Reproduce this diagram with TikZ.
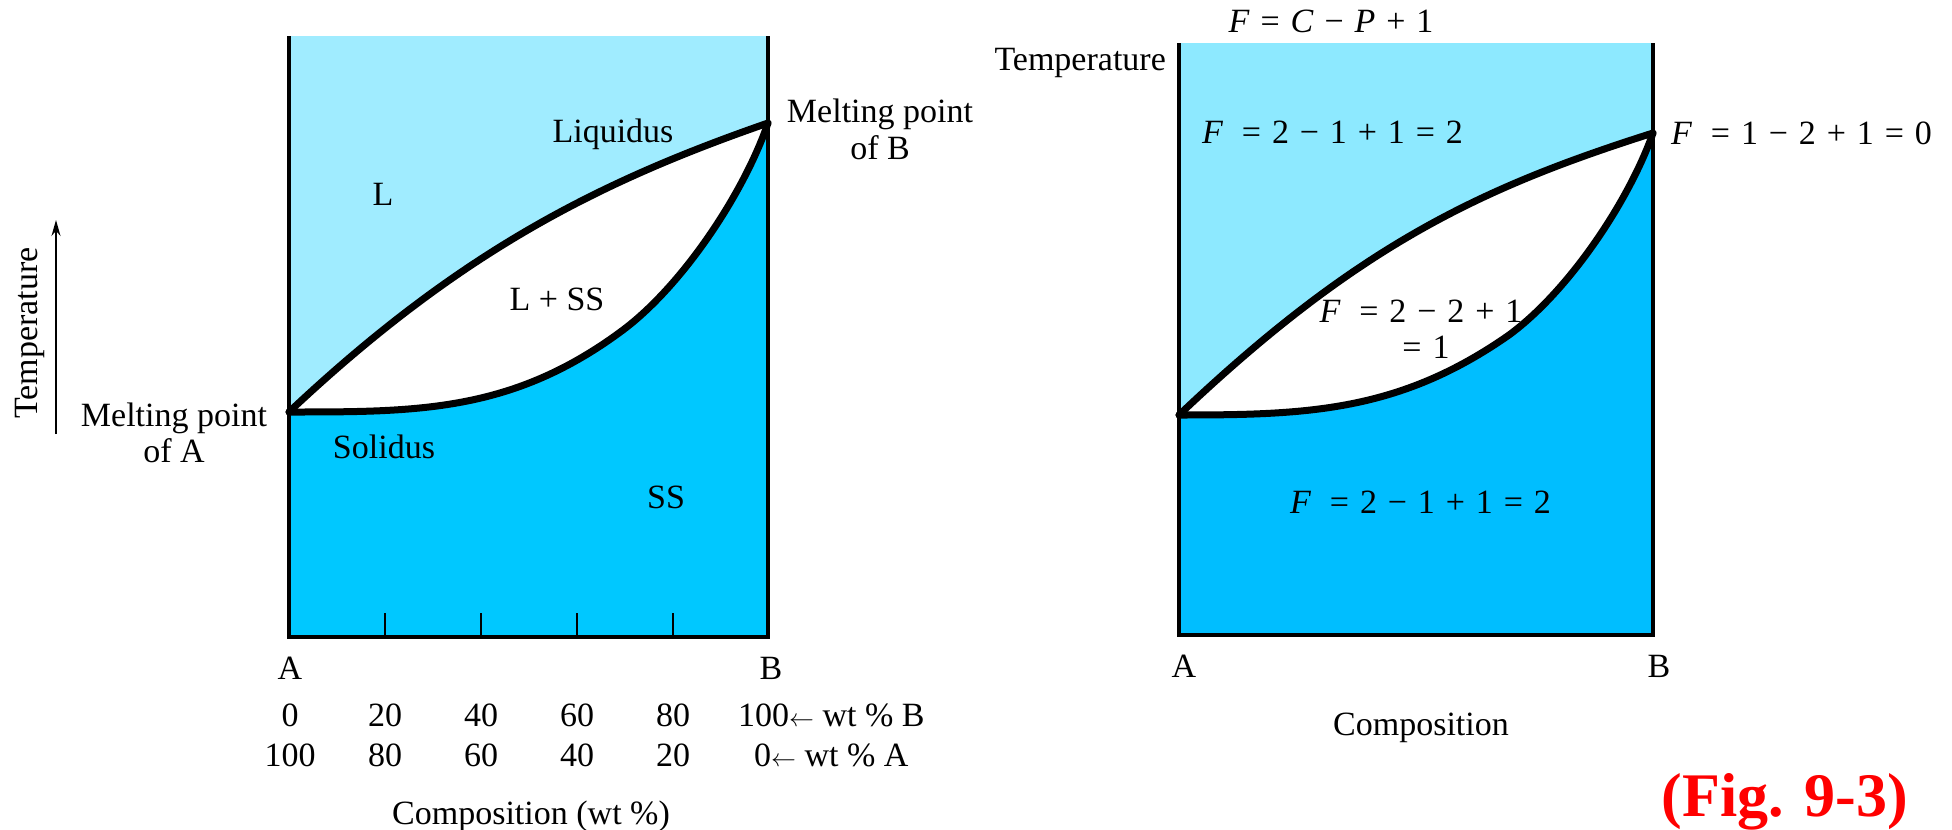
\documentclass[tikz,border=0pt]{standalone}
\usepackage{fontspec}
\setmainfont{Liberation Serif}
\usetikzlibrary{arrows.meta}
\definecolor{liqL}{RGB}{160,236,255}
\definecolor{solL}{RGB}{0,200,255}
\definecolor{liqR}{RGB}{141,233,255}
\definecolor{solR}{RGB}{0,190,255}
\definecolor{figred}{RGB}{255,0,0}
\newcommand\gp{\hspace{0.32em}}
\newcommand\gF{\hspace{0.55em}}
\begin{document}
\begin{tikzpicture}[x=1pt,y=-1pt,
  lbl/.style={font=\fontsize{34}{40}\selectfont, inner sep=0pt},
  boxline/.style={line width=3.5pt, line cap=butt, line join=miter},
  curve/.style={line width=7pt, line cap=round, line join=round},
  tick/.style={line width=2pt}]
\useasboundingbox[fill=white] (0,0) rectangle (1952,830);

% ---------------- left diagram ----------------
\coordinate (Ltl) at (289,36);
\coordinate (Ltr) at (768,36);
\coordinate (Lbl) at (289,637);
\coordinate (Lbr) at (768,637);
\coordinate (LmA) at (289,412);
\coordinate (LmB) at (768,123);
\coordinate (LsM) at (623,330);

\fill[liqL] (Ltl) -- (Ltr) -- (LmB) .. controls (598,182) and (459,252) .. (LmA) -- cycle;
\fill[solL] (Lbl) -- (LmA) .. controls (419,412) and (513,412) .. (LsM)
  .. controls (683,285) and (744,193) .. (LmB) -- (Lbr) -- cycle;

\draw[curve] (LmA) .. controls (459,252) and (598,182) .. (LmB);
\draw[curve] (LmA) .. controls (419,412) and (513,412) .. (LsM)
  .. controls (683,285) and (744,193) .. (LmB);

\draw[boxline] (Ltl) -- (Lbl) -- (Lbr) -- (Ltr);
\foreach \x in {385,481,577,673} \draw[tick] (\x,613) -- (\x,637);

\node[lbl, anchor=base] (liq) at (613,142) {Liquidus};
\node[lbl, anchor=base] (Lreg) at (383,205) {L};
\node[lbl, anchor=base] (LSS) at (557,310) {L + SS};
\node[lbl, anchor=base] (sol) at (384,458) {Solidus};
\node[lbl, anchor=base] (SSreg) at (666,508) {SS};
\node[lbl, anchor=base] (mpB1) at (880,122) {Melting point};
\node[lbl, anchor=base] (mpB2) at (880,159) {of B};
\node[lbl, anchor=base] (mpA1) at (174,426) {Melting point};
\node[lbl, anchor=base] (mpA2) at (174,462) {of A};
\node[lbl, rotate=90] (tempL) at (30,333) {Temperature};
\coordinate (arrS) at (56,434);
\coordinate (arrE) at (56,220);
\draw[line width=1.6pt, -{Stealth[length=16pt,width=9pt]}] (arrS) -- (arrE);

\node[lbl, anchor=base] (LA) at (290,679) {A};
\node[lbl, anchor=base] (LB) at (771,679) {B};
\foreach \x/\t in {290/0,385/20,481/40,577/60,673/80}
  \node[lbl, anchor=base] at (\x,726) {\t};
\node[lbl, anchor=base west] (wtB) at (738,726) {100$\leftarrow$ wt \% B};
\foreach \x/\t in {290/100,385/80,481/60,577/40,673/20}
  \node[lbl, anchor=base] at (\x,766) {\t};
\node[lbl, anchor=base west] (wtA) at (754,766) {0$\leftarrow$ wt \% A};
\node[lbl, anchor=base] (compL) at (531,824) {Composition (wt \%)};

% ---------------- right diagram ----------------
\coordinate (Rtl) at (1179,43);
\coordinate (Rtr) at (1653,43);
\coordinate (Rbl) at (1179,635);
\coordinate (Rbr) at (1653,635);
\coordinate (RmA) at (1179,415);
\coordinate (RmB) at (1653,133);
\coordinate (RsM) at (1509,335);

\fill[liqR] (Rtl) -- (Rtr) -- (RmB) .. controls (1483,187) and (1359,244) .. (RmA) -- cycle;
\fill[solR] (Rbl) -- (RmA) .. controls (1307,415) and (1399,412) .. (RsM)
  .. controls (1569,291) and (1629,201) .. (RmB) -- (Rbr) -- cycle;

\draw[curve] (RmA) .. controls (1359,244) and (1483,187) .. (RmB);
\draw[curve] (RmA) .. controls (1307,415) and (1399,412) .. (RsM)
  .. controls (1569,291) and (1629,201) .. (RmB);

\draw[boxline] (Rtl) -- (Rbl) -- (Rbr) -- (Rtr);

\node[lbl, anchor=base] (gibbs) at (1331,32) {\textit{F}\gp=\gp\textit{C}\gp−\gp\textit{P}\gp+\gp1};
\node[lbl, anchor=base east] (tempR) at (1166,70) {Temperature};
\node[lbl, anchor=base west] (Fliq) at (1202,143) {\textit{F}\gF=\gp2\gp−\gp1\gp+\gp1\gp=\gp2};
\node[lbl, anchor=base west] (Fmp) at (1671,144) {\textit{F}\gF=\gp1\gp−\gp2\gp+\gp1\gp=\gp0};
\node[lbl, anchor=base] (Ftwo1) at (1421,322) {\textit{F}\gF=\gp2\gp−\gp2\gp+\gp1};
\node[lbl, anchor=base] (Ftwo2) at (1426,358) {=\gp1};
\node[lbl, anchor=base west] (Fsol) at (1290,513) {\textit{F}\gF=\gp2\gp−\gp1\gp+\gp1\gp=\gp2};
\node[lbl, anchor=base] (RA) at (1184,677) {A};
\node[lbl, anchor=base] (RB) at (1659,677) {B};
\node[lbl, anchor=base] (compR) at (1421,735) {Composition};

\node[inner sep=0pt, anchor=base, text=figred, font=\fontsize{62}{70}\selectfont\bfseries] (fig) at (1785,816) {(Fig. 9-3)};
\end{tikzpicture}
\end{document}
